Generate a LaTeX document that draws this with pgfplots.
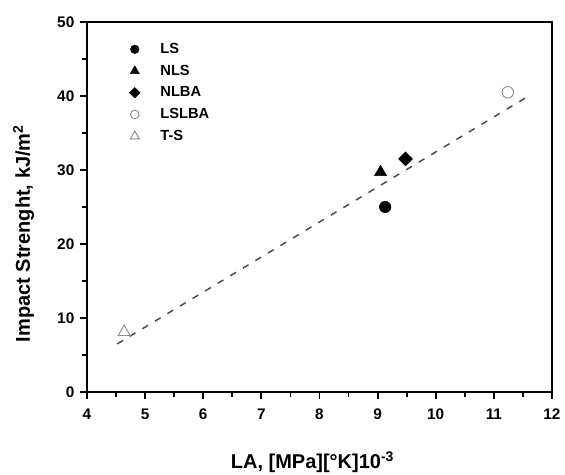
\documentclass[border=0pt]{standalone}
\usepackage{pgfplots}
\pgfplotsset{compat=1.18}
\usepackage{fontspec}
\setmainfont{Liberation Sans}
\definecolor{opengray}{HTML}{8C8C8C}
\definecolor{fitgray}{HTML}{4A4A4A}

\begin{document}
\begin{tikzpicture}[x=1pt,y=1pt]
% page size of the reference: 565 x 475 px at 0.75pt/px
\useasboundingbox (-65.25,-62.25) rectangle (358.5,294);
\begin{axis}[
    at={(0,0)}, anchor=south west,
    width=348.75pt, height=277.5pt,
    scale only axis,
    xmin=4, xmax=12, ymin=0, ymax=50,
    xtick={4,5,...,12}, ytick={0,10,...,50},
    minor x tick num=1, minor y tick num=1,
    axis line style={line width=1.6pt},
    tick style={line width=1.4pt, black},
    major tick length=5pt, minor tick length=3.5pt,
    tick align=outside,
    xtick pos=bottom, ytick pos=left,
    /pgf/number format/assume math mode=true,
    tick label style={font=\fontsize{11.5}{13}\selectfont\bfseries},
    xticklabel style={yshift=-4pt},
    yticklabel style={xshift=-1pt},
    xlabel={LA, [MPa][°K]10\textsuperscript{-3}},
    ylabel={Impact Strenght, kJ/m\textsuperscript{2}},
    label style={font=\fontsize{15}{17}\selectfont\bfseries},
    xlabel style={at={(rel axis cs:0.485,0)}, anchor=base, yshift=-57.5pt},
    ylabel style={at={(rel axis cs:0,0.428)}, anchor=center, yshift=47.5pt},
    legend style={at={(rel axis cs:0.091,0.945)}, anchor=north west,
        draw=none, fill=none, font=\fontsize{11}{12}\selectfont\bfseries,
        inner sep=0pt, row sep=6.3pt,
        nodes={inner sep=0pt, text height=8pt, text depth=2pt},
        /tikz/every odd column/.append style={column sep=15.3pt}},
    legend image post style={scale=0.75},
    legend cell align=left,
    clip=false,
]
% fitted line
\addplot[fitgray, line width=1.1pt, dash pattern=on 5pt off 6pt, forget plot]
    coordinates {(4.52,6.5) (11.62,40.1)};

% LS
\addplot[only marks, mark=*, mark size=4.3pt, black] coordinates {(9.13,25.0)};
% NLS
\addplot[only marks, mark=triangle*, mark size=5.2pt, black] coordinates {(9.05,29.7)};
% NLBA
\addplot[only marks, mark=square*, mark size=3.7pt, mark options={rotate=45}, black] coordinates {(9.48,31.5)};
% LSLBA
\addplot[only marks, mark=o, mark size=4.3pt, opengray, mark options={line width=0.7pt}] coordinates {(11.24,40.5)};
% T-S
\addplot[only marks, mark=triangle, mark size=5.2pt, opengray, mark options={line width=0.7pt}] coordinates {(4.64,8.1)};

\legend{LS,NLS,NLBA,LSLBA,T-S}
\end{axis}
\end{tikzpicture}
\end{document}
